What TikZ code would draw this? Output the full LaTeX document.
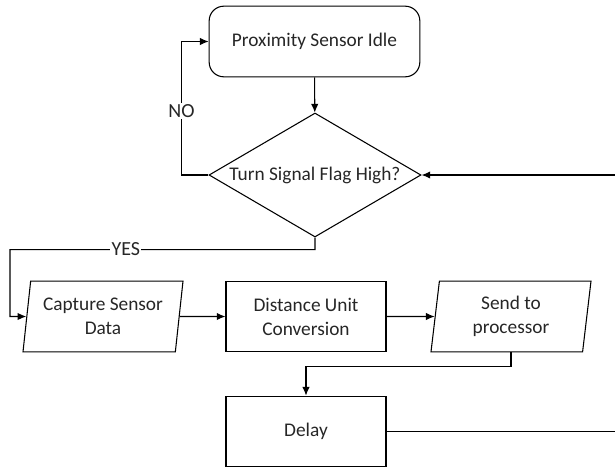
\documentclass[tikz,border=0pt]{standalone}
\usepackage{fontspec}
\setmainfont{Carlito}
\usetikzlibrary{arrows.meta,calc,shapes.geometric}
\tikzstyle{idlebox} = [draw,rounded corners=11pt,minimum width=158pt,minimum height=53pt,align=center]
\tikzstyle{decision} = [draw,diamond,aspect=1.71,inner sep=0pt,minimum width=159pt,minimum height=93pt,align=center]
\tikzstyle{iobox} = [draw,trapezium,trapezium left angle=79,trapezium right angle=101,trapezium stretches body=true,minimum width=120pt,minimum height=53pt,inner sep=1pt,align=center]
\tikzstyle{procbox} = [draw,minimum width=120pt,minimum height=53pt,align=center]
\tikzstyle{line} = [draw,-{Latex[length=6.5pt,width=5.5pt]},line width=0.8pt]
\tikzstyle{tag} = [fill=white,inner sep=1pt,font=\fontsize{15}{18}\selectfont]

\begin{document}
\begin{tikzpicture}[x=0.75pt,y=-0.75pt,line width=0.8pt,font=\fontsize{14.5}{18}\selectfont,text=black!85]
  \useasboundingbox (0,0) rectangle (615,469);
  % Start and decision
  \node[idlebox] (idle) at (314.5,41.5) {Proximity Sensor Idle};
  \node[decision] (flag) at (315,175) {Turn Signal Flag High?};
  % Processing row
  \node[iobox] (capture) at (103,316.5) {Capture Sensor\\Data};
  \node[procbox] (dist) at (306,316.5) {Distance Unit\\Conversion};
  \node[iobox] (send) at (511,316.5) {Send to\\processor};
  \node[procbox] (delay) at (306,431.5) {Delay};
  % Loop ends at the right border
  \coordinate (yesleft) at (10,316.5);
  \coordinate (delayedge) at (615,431.5);
  \coordinate (loopedge) at (615,175);
  \path[line] (idle) -- (flag);
  \path[line] (flag.west) -- ++(-27,0) |- node[tag,pos=0.24] {NO} (idle.west);
  \path[line] (flag.south) -- ++(0,12) -| node[tag,pos=0.31] {YES} (yesleft) -- (capture.west);
  \path[line] (capture) -- (dist);
  \path[line] (dist) -- (send);
  \path[line] (send.south) -- ++(0,14) -| (delay.north);
  \draw (delay.east) -- (delayedge);
  \path[line] (loopedge) -- (flag.east);
\end{tikzpicture}
\end{document}
